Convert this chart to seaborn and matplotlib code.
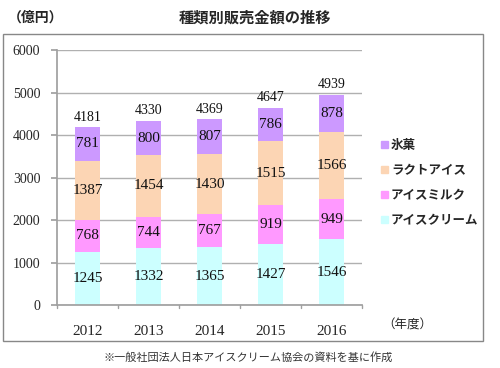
import matplotlib
matplotlib.use("Agg")
import matplotlib.pyplot as plt
import seaborn as sns
import pandas as pd
import numpy as np
from matplotlib.patches import Rectangle

years = ["2012", "2013", "2014", "2015", "2016"]
icecream = [1245, 1332, 1365, 1427, 1546]
icemilk = [768, 744, 767, 919, 949]
lacto = [1387, 1454, 1430, 1515, 1566]
hyoka = [781, 800, 807, 786, 878]
totals = [4181, 4330, 4369, 4647, 4939]
series_names = ["アイスクリーム", "アイスミルク", "ラクトアイス", "氷菓"]
series_vals = [icecream, icemilk, lacto, hyoka]
colors = ["#CCFFFF", "#FF99FF", "#FCD5B4", "#CC99FF"]

sns.set_theme(style="white")
plt.rcParams['font.family'] = ['Noto Sans CJK JP', 'DejaVu Sans']
serif = ['Liberation Serif', 'DejaVu Serif']

fig = plt.figure(figsize=(5, 3.68), dpi=100)
fig.patches.append(Rectangle((0.006, 0.073), 0.96, 0.834, transform=fig.transFigure,
                             fill=False, edgecolor="#888888", lw=1.0))
ax = fig.add_axes([0.114, 0.171, 0.61, 0.693])

bottom = np.zeros(len(years))
handles = []
for name, vals, c in zip(series_names, series_vals, colors):
    df = pd.DataFrame({"year": years, "v": vals})
    sns.barplot(data=df, x="year", y="v", color=c, bottom=bottom, width=0.41,
                ax=ax, saturation=1, edgecolor="none", linewidth=0)
    for i, v in enumerate(vals):
        ax.text(i, bottom[i] + v / 2, str(v), ha="center", va="center",
                fontsize=11, family=serif, color="#111111")
    bottom = bottom + np.array(vals)
    handles.append(Rectangle((0, 0), 1, 1, color=c, label=name))

for i, t in enumerate(totals):
    ax.text(i, t + 90, str(t), ha="center", va="bottom", fontsize=10,
            family=serif, color="#111111")

ax.set_ylim(0, 6000)
ax.set_xlim(-0.5, 4.5)
ax.set_yticks(range(0, 6001, 1000))
ax.set_yticklabels([str(v) for v in range(0, 6001, 1000)], family=serif, fontsize=10)
ax.set_xticklabels(years, family=serif, fontsize=11)
ax.set_xlabel("")
ax.set_ylabel("")
ax.yaxis.grid(True, color="#B0B0B0", lw=1)
ax.set_axisbelow(True)
for s in ["top", "right"]:
    ax.spines[s].set_visible(False)
ax.spines["left"].set_color("#A0A0A0")
ax.spines["bottom"].set_color("#A0A0A0")
ax.tick_params(axis="y", left=True, length=4, color="#A0A0A0", pad=8)
ax.tick_params(axis="x", bottom=False, pad=8)
for xb in np.arange(0.5, 4.6, 1.0):
    ax.plot([xb, xb], [0, -60], color="#A0A0A0", lw=1, clip_on=False)
ax.plot([-0.5, -0.5], [0, -60], color="#A0A0A0", lw=1, clip_on=False)

leg = fig.legend(handles=handles[::-1], loc="upper left", bbox_to_anchor=(0.762, 0.622),
                 frameon=False, fontsize=9, handlelength=0.55, handleheight=0.55,
                 labelspacing=0.95, handletextpad=0.25, borderaxespad=0, borderpad=0)
for t in leg.get_texts():
    t.set_fontweight("bold")

fig.text(0.51, 0.953, "種類別販売金額の推移", ha="center", va="center", fontsize=11,
         fontweight="bold")
fig.text(0.016, 0.953, "（億円）", ha="left", va="center", fontsize=10, fontweight="bold")
fig.text(0.765, 0.117, "（年度）", ha="left", va="center", fontsize=9)
fig.text(0.497, 0.03, "※一般社団法人日本アイスクリーム協会の資料を基に作成", ha="center",
         va="center", fontsize=8, color="#333333")

fig.savefig("out.png", dpi=100)
